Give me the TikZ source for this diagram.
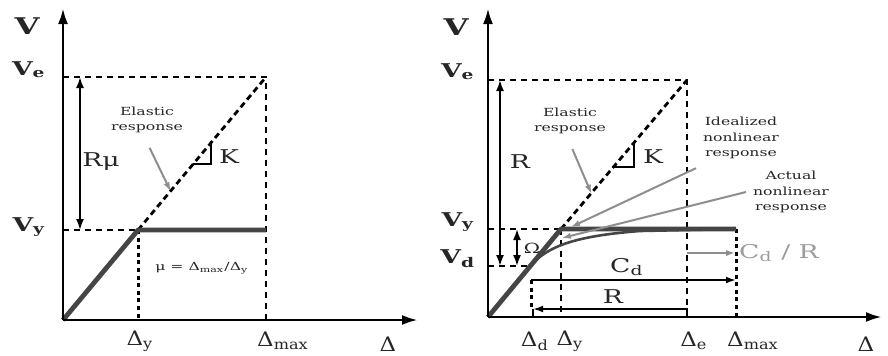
\documentclass[tikz,border=0pt]{standalone}
\usepackage{fontspec}
\setmainfont{DejaVu Serif}
\usepackage{xcolor}
\usepackage{graphicx}
\usepackage{tikz}
\usetikzlibrary{arrows.meta,calc}
\definecolor{curvegray}{HTML}{454545}
\definecolor{pointgray}{HTML}{8E8E8E}
\definecolor{softgray}{HTML}{9C9C9C}
\definecolor{inkgray}{HTML}{262626}
\newcommand{\wideText}[1]{\scalebox{1.4}[1]{#1}}
\newcommand{\narrowText}[1]{\scalebox{1.15}[1]{#1}}
\newcommand{\stackText}[1]{\wideText{\begin{tabular}{@{}c@{}}#1\end{tabular}}}

\begin{document}
\begin{tikzpicture}[
  x=0.5pt, y=-0.5pt,
  topfont/.style={font=\fontsize{11.5}{13}\selectfont\bfseries, text=inkgray},
  vfont/.style={font=\fontsize{9.5}{11}\selectfont\bfseries, text=inkgray},
  bigfont/.style={font=\fontsize{9.5}{11}\selectfont, text=inkgray},
  deltafont/.style={font=\fontsize{10}{12}\selectfont, text=inkgray},
  smallfont/.style={font=\fontsize{5.6}{7.7}\selectfont, text=inkgray},
  axisline/.style={line width=1.4pt, -{Latex[length=8pt,width=5pt]}},
  dimarrow/.style={line width=0.9pt, {Latex[length=5.5pt,width=4pt]}-{Latex[length=5.5pt,width=4pt]}},
  onearrow/.style={line width=0.9pt, -{Latex[length=5pt,width=3.4pt]}},
  pointer/.style={pointgray, line width=1pt, -{Latex[length=4.5pt,width=3.2pt]}},
  thinDash/.style={line width=0.7pt, dash pattern=on 3pt off 2.5pt},
  diagDash/.style={line width=1.4pt, dash pattern=on 3pt off 2pt},
  thickDot/.style={line width=1.5pt, dash pattern=on 2pt off 1.8pt},
  response/.style={curvegray, line width=2.4pt, line join=round}
]
\useasboundingbox (0,0) rectangle (888,355);

% left panel
\coordinate (oA) at (63,320);
\coordinate (topA) at (63,8);
\coordinate (endA) at (418,320);
\coordinate (veA) at (63,77);
\coordinate (vyA) at (63,230);
\coordinate (yieldA) at (138,230);
\coordinate (peakA) at (266,77);
\coordinate (plateauA) at (266,230);
\coordinate (dyA) at (138,320);
\coordinate (dmA) at (266,320);
\coordinate (rTopA) at (80,77);
\coordinate (rBotA) at (80,230);
\coordinate (elTipA) at ($(oA)!0.53!(peakA)$);
\coordinate (kOneA) at (193,164);
\coordinate (kTwoA) at (211,141);

\draw[thinDash] (veA) -- (peakA) -- (dmA);
\draw[thinDash] (vyA) -- (yieldA);
\draw[thickDot] (yieldA) -- (dyA);
\draw[diagDash] (yieldA) -- (peakA);
\draw[response] (oA) -- (yieldA) -- (plateauA);
\draw[axisline] (oA) -- (topA);
\draw[axisline] (oA) -- (endA);
\draw[dimarrow] (rTopA) -- (rBotA);
\draw[line width=1.1pt] (kOneA) -| (kTwoA);

\node[topfont] (vLabelA) at (27,26) {\wideText{V}};
\node[vfont] (veLabelA) at (29,70) {\wideText{V\textsubscript{e}}};
\node[vfont] (vyLabelA) at (29,227) {\wideText{V\textsubscript{y}}};
\node[bigfont] (rmuLabelA) at (101,162) {\wideText{Rμ}};
\node[smallfont] (elasticA) at (147,120) {\stackText{Elastic\\response}};
\node[bigfont] (kLabelA) at (229,157) {\wideText{K}};
\node[smallfont] (muLabelA) at (202,268) {\wideText{μ = Δ\textsubscript{max}/Δ\textsubscript{y}}};
\node[deltafont] (dyLabelA) at (140,341) {\narrowText{Δ\textsubscript{y}}};
\node[deltafont] (dmLabelA) at (283,341) {\narrowText{Δ\textsubscript{max}}};
\node[deltafont] (dLabelA) at (388,344) {\narrowText{Δ}};

\draw[pointer, shorten <=3pt] (elasticA.south) -- (elTipA);

% right panel
\coordinate (oB) at (488,317);
\coordinate (topB) at (488,8);
\coordinate (endB) at (882,317);
\coordinate (veB) at (488,80);
\coordinate (vyB) at (488,229);
\coordinate (vdB) at (488,266);
\coordinate (yieldB) at (561,229);
\coordinate (peakB) at (687,80);
\coordinate (plateauB) at (736,229);
\coordinate (bendB) at (530,266);
\coordinate (mergeB) at (640,231);
\coordinate (dyB) at (561,317);
\coordinate (deB) at (687,317);
\coordinate (dmB) at (736,317);
\coordinate (rTopB) at (500,80);
\coordinate (rBotB) at (500,266);
\coordinate (omTopB) at (517,229);
\coordinate (omBotB) at (517,266);
\coordinate (elTipB) at ($(oB)!0.52!(peakB)$);
\coordinate (kOneB) at (614,167);
\coordinate (kTwoB) at (634,143);
\coordinate (idTipB) at (571,227);
\coordinate (acTipB) at (562,238);
\coordinate (cdStartB) at (531,280);
\coordinate (cdEndB) at (736,280);
\coordinate (crStartB) at (687,253);
\coordinate (crEndB) at (735,253);
\coordinate (rEndB) at (533,309);
\coordinate (rBaseB) at (533,317);
\coordinate (ddTopB) at (531,280);
\coordinate (ddBotB) at (531,309);

\draw[thinDash] (veB) -- (peakB) -- (deB);
\draw[thinDash] (vyB) -- (yieldB);
\draw[thinDash] (vdB) -- (bendB);
\draw[thinDash] (yieldB) -- (dyB);
\draw[thickDot] (ddTopB) -- (ddBotB);
\draw[thickDot] (plateauB) -- (dmB);
\draw[diagDash] (yieldB) -- (peakB);
\draw[response] (oB) -- (yieldB) -- (plateauB);
\draw[curvegray, line width=1.3pt] (bendB) .. controls (548,246) and (575,236) .. (mergeB) -- (plateauB);
\draw[axisline] (oB) -- (topB);
\draw[axisline] (oB) -- (endB);
\draw[dimarrow] (rTopB) -- (rBotB);
\draw[dimarrow] (omTopB) -- (omBotB);
\draw[line width=1.1pt] (kOneB) -| (kTwoB);
\draw[onearrow] (cdStartB) -- (cdEndB);
\draw[onearrow] (deB) |- (rEndB);
\draw[line width=0.9pt] (rEndB) -- (rBaseB);

\node[topfont] (vLabelB) at (456,27) {\wideText{V}};
\node[vfont] (veLabelB) at (458,72) {\wideText{V\textsubscript{e}}};
\node[vfont] (vyLabelB) at (458,222) {\wideText{V\textsubscript{y}}};
\node[vfont] (vdLabelB) at (458,259) {\wideText{V\textsubscript{d}}};
\node[bigfont] (rLabelB) at (520,162) {\wideText{R}};
\node[font=\fontsize{7}{8}\selectfont, text=inkgray] (omLabelB) at (532,248) {\wideText{Ω}};
\node[smallfont] (elasticB) at (570,121) {\stackText{Elastic\\response}};
\node[bigfont] (kLabelB) at (653,157) {\wideText{K}};
\node[smallfont] (idealB) at (741,138) {\stackText{Idealized\\nonlinear\\response}};
\node[smallfont] (actualB) at (791,192) {\stackText{Actual\\nonlinear\\response}};
\node[bigfont, text=softgray] (cdrLabelB) at (779,253) {\wideText{C\textsubscript{d} / R}};
\node[bigfont] (cdLabelB) at (627,267) {\wideText{C\textsubscript{d}}};
\node[bigfont] (rdLabelB) at (613,297) {\wideText{R}};
\node[deltafont] (ddLabelB) at (535,341) {\narrowText{Δ\textsubscript{d}}};
\node[deltafont] (dyLabelB) at (570,341) {\narrowText{Δ\textsubscript{y}}};
\node[deltafont] (deLabelB) at (694,341) {\narrowText{Δ\textsubscript{e}}};
\node[deltafont] (dmLabelB) at (753,341) {\narrowText{Δ\textsubscript{max}}};
\node[deltafont] (dLabelB) at (866,344) {\narrowText{Δ}};

\draw[pointer, shorten <=3pt] (elasticB.south) -- (elTipB);
\draw[pointer] (idealB.south west) -- (idTipB);
\draw[pointer] (actualB.west) -- (acTipB);
\draw[pointer] (crStartB) -- (crEndB);
\end{tikzpicture}
\end{document}
